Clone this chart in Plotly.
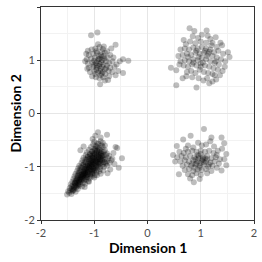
import plotly.graph_objects as go

# ---- data ----
tl_pts = [(-1.06,1.47),(-0.94,1.52),(-0.60,1.29),(-0.46,1.02),(-0.36,0.99),(-0.46,0.76),(-0.89,0.55),(-0.74,0.63),
(-1.12,1.18),(-1.05,1.20),(-0.98,1.22),(-0.90,1.25),(-0.84,1.21),(-0.76,1.17),(-0.70,1.10),(-0.68,1.22),
(-1.10,1.10),(-1.02,1.12),(-0.95,1.14),(-0.88,1.10),(-0.82,1.08),(-0.75,1.05),(-0.66,0.98),(-0.58,0.92),
(-1.14,1.02),(-1.06,1.03),(-0.99,1.05),(-0.92,1.02),(-0.85,1.00),(-0.78,0.98),(-0.72,0.95),(-0.62,0.88),
(-1.12,0.94),(-1.04,0.96),(-0.97,0.95),(-0.90,0.93),(-0.83,0.92),(-0.76,0.90),(-0.70,0.86),(-0.55,0.80),
(-1.10,0.86),(-1.02,0.88),(-0.95,0.86),(-0.88,0.84),(-0.80,0.83),(-0.73,0.80),(-0.66,0.78),
(-1.08,0.78),(-1.00,0.80),(-0.93,0.77),(-0.86,0.75),(-0.79,0.74),(-0.72,0.70),
(-1.04,0.70),(-0.97,0.68),(-0.90,0.66),(-0.83,0.68),(-0.80,0.62),
(-0.96,1.17),(-0.92,1.08),(-0.86,1.16),(-0.80,1.14),(-1.00,0.99),(-0.94,0.98),(-0.87,0.96),(-0.81,1.03),
(-1.01,0.91),(-0.91,0.89),(-0.85,0.88),(-0.96,0.82),(-0.89,0.80),(-0.84,0.78),(-1.15,1.12),(-0.93,1.30),
(-0.82,1.26),(-0.64,1.05),(-0.60,0.72),(-0.52,0.98),(-1.17,0.98),(-1.13,0.84),(-0.98,0.74),(-0.78,0.85),
(-0.86,1.06),(-0.90,1.03),(-0.95,0.90),(-0.88,0.72)]

tr_pts = [(0.79,1.60),(1.11,1.56),(0.44,0.86),(0.54,0.53),(0.92,0.49),(1.51,1.15),(1.54,1.06),(0.54,0.81),(0.66,0.66),(0.73,0.70),(1.29,0.64),(1.16,0.57),(1.41,0.80),(1.37,1.33),(1.28,1.43),
(0.85,1.45),(0.95,1.42),(1.02,1.48),(1.18,1.40),(1.22,1.33),(0.72,1.30),(0.80,1.35),(0.90,1.32),(1.00,1.35),(1.10,1.33),(1.30,1.25),
(0.62,1.20),(0.70,1.22),(0.78,1.20),(0.86,1.24),(0.94,1.22),(1.02,1.25),(1.10,1.22),(1.18,1.20),(1.25,1.15),(1.33,1.18),(1.42,1.12),
(0.58,1.08),(0.66,1.10),(0.74,1.12),(0.82,1.10),(0.90,1.14),(0.98,1.12),(1.06,1.14),(1.14,1.12),(1.22,1.08),(1.30,1.05),(1.38,1.02),(1.46,0.98),
(0.62,0.98),(0.70,1.00),(0.78,0.98),(0.86,1.02),(0.94,1.00),(1.02,1.04),(1.10,1.02),(1.18,0.98),(1.26,0.95),(1.34,0.92),
(0.68,0.90),(0.76,0.88),(0.84,0.92),(0.92,0.90),(1.00,0.94),(1.08,0.90),(1.16,0.88),(1.24,0.85),(1.32,0.82),
(0.74,0.78),(0.82,0.80),(0.90,0.76),(0.98,0.82),(1.06,0.78),(1.14,0.76),(1.22,0.74),(1.36,0.72),
(0.84,0.68),(0.96,0.66),(1.05,0.62),(1.12,0.66),(1.22,0.60),
(1.08,1.18),(1.12,1.08),(0.96,1.06),(0.86,0.96),(1.04,0.96),(1.16,1.16),(0.92,1.18),(1.20,1.28),(0.76,1.06),(1.00,0.88),(1.28,0.98),(1.40,1.28),(0.68,1.38),(0.60,0.92),(1.45,0.88),(1.13,1.46),(0.88,1.55),(1.26,0.72)]

br_pts = [(1.06,-0.29),(0.67,-0.49),(0.81,-0.42),(1.20,-0.45),(1.39,-0.45),(1.44,-0.56),(1.48,-0.76),(1.48,-0.97),(0.55,-0.61),(0.48,-0.78),(0.59,-1.14),(0.87,-1.29),(0.98,-1.23),(1.12,-1.12),(1.39,-1.07),
(0.95,-0.55),(1.02,-0.60),(1.10,-0.58),(1.25,-0.62),(0.86,-0.64),(0.72,-0.66),
(0.60,-0.72),(0.68,-0.74),(0.76,-0.72),(0.84,-0.70),(0.92,-0.72),(1.00,-0.70),(1.08,-0.72),(1.16,-0.70),(1.24,-0.74),(1.32,-0.70),(1.40,-0.66),
(0.56,-0.82),(0.64,-0.80),(0.72,-0.82),(0.80,-0.80),(0.88,-0.82),(0.96,-0.80),(1.04,-0.82),(1.12,-0.80),(1.20,-0.84),(1.28,-0.82),(1.36,-0.86),
(0.62,-0.90),(0.70,-0.88),(0.78,-0.90),(0.86,-0.88),(0.94,-0.90),(1.02,-0.88),(1.10,-0.90),(1.18,-0.92),(1.26,-0.90),(1.34,-0.94),
(0.66,-0.98),(0.74,-0.96),(0.82,-0.98),(0.90,-0.96),(0.98,-0.98),(1.06,-0.96),(1.14,-1.00),(1.22,-0.98),(1.30,-1.02),
(0.70,-1.06),(0.78,-1.04),(0.86,-1.08),(0.94,-1.05),(1.02,-1.06),(1.10,-1.04),(1.20,-1.08),
(0.76,-1.14),(0.84,-1.16),(0.92,-1.12),(1.00,-1.15),(0.80,-1.22),
(0.96,-0.84),(1.00,-0.93),(1.04,-0.86),(0.92,-0.94),(1.08,-0.84),(0.98,-1.02),(0.90,-0.86),(1.06,-0.92),(0.94,-0.78),(1.12,-0.86),(1.16,-0.96),(0.84,-0.94),(1.00,-0.76),(0.88,-1.02),(1.30,-0.78),(0.52,-0.90),(1.44,-0.86),(0.76,-0.60),(1.18,-0.52)]

bl_pts = [(-1.51,-1.52),(-1.47,-1.49),(-1.43,-1.51),(-1.49,-1.46),(-1.45,-1.44),
(-1.41,-1.46),(-1.38,-1.43),(-1.46,-1.40),(-1.35,-1.47),
(-1.43,-1.37),(-1.39,-1.41),(-1.34,-1.39),(-1.31,-1.42),(-1.29,-1.36),
(-1.44,-1.33),(-1.40,-1.35),(-1.36,-1.32),(-1.33,-1.36),(-1.27,-1.33),(-1.23,-1.37),
(-1.41,-1.28),(-1.37,-1.30),(-1.34,-1.27),(-1.30,-1.31),(-1.26,-1.28),(-1.21,-1.30),(-1.17,-1.32),
(-1.39,-1.23),(-1.35,-1.26),(-1.31,-1.22),(-1.28,-1.25),(-1.24,-1.23),(-1.19,-1.26),(-1.15,-1.24),(-1.11,-1.27),
(-1.37,-1.18),(-1.33,-1.21),(-1.30,-1.17),(-1.26,-1.20),(-1.22,-1.18),(-1.18,-1.21),(-1.13,-1.19),(-1.09,-1.22),(-1.05,-1.19),
(-1.35,-1.13),(-1.31,-1.16),(-1.28,-1.12),(-1.24,-1.15),(-1.20,-1.13),(-1.16,-1.16),(-1.12,-1.14),(-1.07,-1.17),(-1.03,-1.13),(-0.99,-1.16),
(-1.32,-1.08),(-1.29,-1.11),(-1.25,-1.07),(-1.21,-1.10),(-1.17,-1.08),(-1.13,-1.11),(-1.09,-1.09),(-1.05,-1.12),(-1.01,-1.08),(-0.96,-1.11),(-0.91,-1.09),
(-1.30,-1.03),(-1.27,-1.06),(-1.23,-1.02),(-1.19,-1.05),(-1.15,-1.03),(-1.11,-1.06),(-1.07,-1.04),(-1.03,-1.07),(-0.99,-1.03),(-0.95,-1.06),(-0.89,-1.04),(-0.83,-1.07),
(-1.28,-0.98),(-1.25,-1.01),(-1.21,-0.97),(-1.17,-1.00),(-1.13,-0.98),(-1.09,-1.01),(-1.05,-0.99),(-1.01,-1.02),(-0.97,-0.98),(-0.93,-1.01),(-0.88,-0.99),(-0.82,-1.00),(-0.76,-0.98),
(-1.24,-0.93),(-1.20,-0.96),(-1.16,-0.92),(-1.12,-0.95),(-1.08,-0.93),(-1.04,-0.96),(-1.00,-0.94),(-0.96,-0.92),(-0.92,-0.95),(-0.88,-0.93),(-0.84,-0.96),(-0.78,-0.94),(-0.71,-0.93),
(-1.22,-0.88),(-1.18,-0.91),(-1.14,-0.87),(-1.10,-0.90),(-1.06,-0.88),(-1.02,-0.91),(-0.98,-0.89),(-0.94,-0.87),(-0.90,-0.90),(-0.86,-0.88),(-0.82,-0.91),(-0.76,-0.89),(-0.68,-0.88),
(-1.20,-0.83),(-1.16,-0.86),(-1.12,-0.82),(-1.08,-0.85),(-1.04,-0.83),(-1.00,-0.86),(-0.96,-0.84),(-0.92,-0.82),(-0.88,-0.85),(-0.84,-0.83),(-0.80,-0.86),(-0.74,-0.84),
(-1.16,-0.78),(-1.12,-0.81),(-1.08,-0.77),(-1.04,-0.80),(-1.00,-0.78),(-0.96,-0.81),(-0.92,-0.79),(-0.88,-0.77),(-0.84,-0.80),(-0.78,-0.78),(-0.72,-0.80),
(-1.14,-0.73),(-1.08,-0.76),(-1.04,-0.72),(-1.00,-0.75),(-0.96,-0.73),(-0.92,-0.76),(-0.88,-0.74),(-0.82,-0.72),(-0.76,-0.75),
(-1.10,-0.68),(-1.04,-0.71),(-0.98,-0.67),(-0.94,-0.70),(-0.90,-0.68),(-0.86,-0.71),(-0.80,-0.69),
(-1.06,-0.63),(-1.00,-0.66),(-0.95,-0.62),(-0.90,-0.65),(-0.84,-0.63),
(-1.02,-0.58),(-0.97,-0.61),(-0.92,-0.57),(-0.86,-0.60),
(-1.00,-0.53),(-0.94,-0.56),(-0.88,-0.52),
(-1.18,-1.12),(-1.10,-1.02),(-1.02,-0.95),(-0.98,-0.88),(-1.06,-0.92),(-1.14,-1.06),(-1.26,-1.16),(-1.32,-1.24),(-0.94,-0.98),(-1.00,-1.06),(-1.08,-0.96),(-0.90,-0.94),(-1.20,-1.08),(-1.36,-1.30),(-1.04,-1.10),
(-1.00,-1.20),(-0.95,-1.16),(-1.10,-1.28),(-1.18,-1.38),(-0.88,-1.13),
(-1.40,-1.44),(-1.30,-1.34),(-1.22,-1.24),(-1.14,-1.16),(-1.06,-1.06),(-0.98,-0.96),(-0.92,-0.86),(-0.86,-0.80),
(-1.38,-1.38),(-1.28,-1.28),(-1.20,-1.20),(-1.12,-1.10),(-1.04,-1.00),(-0.96,-0.90),(-0.90,-0.82),(-1.02,-0.84),
(-1.42,-1.42),(-1.36,-1.36),(-1.32,-1.30),(-1.27,-1.22),(-1.23,-1.14),(-1.18,-1.04),(-1.15,-0.97),(-1.10,-0.86),
(-1.34,-1.34),(-1.29,-1.26),(-1.24,-1.19),(-1.19,-1.15),(-1.16,-1.10),(-1.11,-1.00),(-1.06,-0.95),(-1.03,-0.88),
(-1.25,-1.25),(-1.21,-1.16),(-1.17,-1.13),(-1.13,-1.04),(-1.09,-0.98),(-1.05,-0.90),(-1.01,-0.82),(-0.97,-0.76),
(-1.15,-1.20),(-1.08,-1.14),(-1.02,-1.04),(-0.97,-1.00),(-0.93,-0.92),(-0.89,-0.88),(-0.85,-0.86),(-0.95,-0.78),
(-1.07,-0.80),(-1.03,-0.76),(-0.99,-0.70),(-0.94,-0.66),(-0.91,-0.72),(-0.87,-0.75),(-0.82,-0.78),(-0.80,-0.92),
(-0.93,-0.35),(-0.76,-0.40),(-1.03,-0.48),(-1.26,-0.69),(-0.57,-0.65),(-0.48,-0.84),(-0.54,-1.02),(-0.60,-0.63),(-0.62,-0.95),(-0.66,-0.85),(-0.88,-0.45),(-0.84,-0.55),(-1.20,-0.62),(-0.70,-1.05),(-0.75,-1.12),(-0.98,-0.42),(-0.64,-0.74),(-0.80,-0.60)]

tick_vals = [-2, -1, 0, 1, 2]
tick_text = ["-2", "-1", "0", "1", "2"]
x_title = "Dimension 1"
y_title = "Dimension 2"

all_pts = tl_pts + tr_pts + br_pts + bl_pts
xs = [p[0] for p in all_pts]
ys = [p[1] for p in all_pts]

fig = go.Figure(go.Scatter(
    x=xs, y=ys, mode="markers",
    marker=dict(size=6, color="rgba(0,0,0,0.26)", line=dict(width=0)),
    hoverinfo="skip", showlegend=False))

axis_common = dict(
    range=[-2, 2], tickvals=tick_vals, ticktext=tick_text,
    showgrid=True, gridcolor="#e6e6e6", gridwidth=1,
    minor=dict(dtick=0.5, showgrid=True, gridcolor="#f2f2f2", gridwidth=1),
    zeroline=False, showline=True, linecolor="#333333", linewidth=1, mirror=True,
    ticks="outside", ticklen=3, tickcolor="#333333", tickwidth=1,
    tickfont=dict(family="Lato", size=11, color="#4d4d4d"),
    automargin=False, fixedrange=True,
)

fig.update_layout(
    width=262, height=262,
    margin=dict(l=41, r=8, t=7, b=42),
    paper_bgcolor="white", plot_bgcolor="white",
    xaxis=axis_common,
    yaxis=axis_common,
    annotations=[
        dict(text="<b>" + x_title + "</b>", xref="paper", yref="paper",
             x=0.5, y=-0.127, xanchor="center", yanchor="middle", showarrow=False,
             font=dict(family="Lato", size=14, color="#000000")),
        dict(text="<b>" + y_title + "</b>", xref="paper", yref="paper",
             x=-0.122, y=0.5, xanchor="center", yanchor="middle", showarrow=False,
             textangle=-90, font=dict(family="Lato", size=14, color="#000000")),
    ],
)

fig.write_html("out.html", config={"displayModeBar": False, "staticPlot": True},
               post_script="document.body.style.margin='0';document.body.style.overflow='hidden';")
